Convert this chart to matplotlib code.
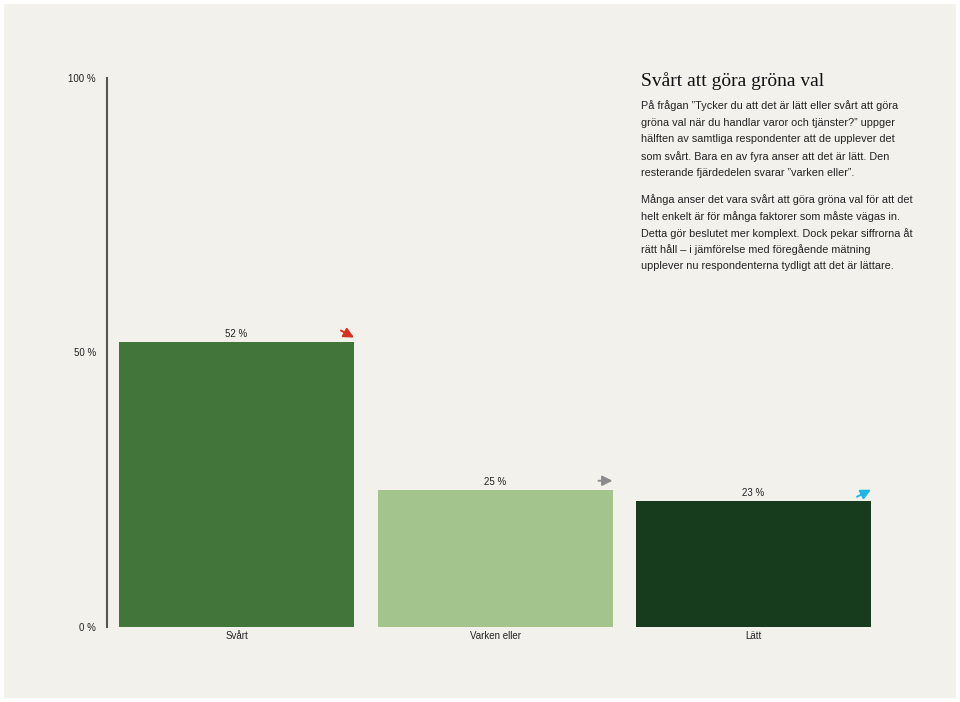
import matplotlib
matplotlib.use("Agg")
import matplotlib.pyplot as plt
from matplotlib.patches import Rectangle
from matplotlib.transforms import offset_copy

categories = ["Svårt", "Varken eller", "Lätt"]
values = [52, 25, 23]
value_labels = ["52 %", "25 %", "23 %"]
trend = ["down", "flat", "up"]
ytick_vals = [0, 50, 100]
ytick_labels = ["0 %", "50 %", "100 %"]
bar_colors = ["#41753a", "#a3c48d", "#163b1d"]
arrow_colors = {"down": "#d4321e", "flat": "#8c8c8c", "up": "#1fb6e6"}

title = "Svårt att göra gröna val"
para1 = ["På frågan ”Tycker du att det är lätt eller svårt att göra",
         "gröna val när du handlar varor och tjänster?” uppger",
         "hälften av samtliga respondenter att de upplever det",
         "som svårt. Bara en av fyra anser att det är lätt. Den",
         "resterande fjärdedelen svarar ”varken eller”."]
para2 = ["Många anser det vara svårt att göra gröna val för att det",
         "helt enkelt är för många faktorer som måste vägas in.",
         "Detta gör beslutet mer komplext. Dock pekar siffrorna åt",
         "rätt håll – i jämförelse med föregående mätning",
         "upplever nu respondenterna tydligt att det är lättare."]

W, H = 960, 702
fig = plt.figure(figsize=(W / 100, H / 100), dpi=100, facecolor="white")
bg = "#f2f1eb"
fig.patches.append(Rectangle((4 / W, 4 / H), 952 / W, 694 / H, transform=fig.transFigure,
                             facecolor=bg, edgecolor="none", zorder=-10))

ax_left, ax_right = 107, 900
ax_bottom, ax_top = 627, 78
ax = fig.add_axes([ax_left / W, (H - ax_bottom) / H, (ax_right - ax_left) / W, (ax_bottom - ax_top) / H])
ax.set_facecolor("none")
spacing = 258.5
x0 = -(236.5 - ax_left) / spacing
x1 = (ax_right - 236.5) / spacing
ax.set_xlim(x0, x1)
ax.set_ylim(0, 100)

xs = list(range(len(categories)))
width = 235 / spacing
ax.bar(xs, values, width=width, color=bar_colors, edgecolor="none", zorder=2)

for s in ["top", "right", "bottom"]:
    ax.spines[s].set_visible(False)
ax.spines["left"].set_color("#555555")
ax.spines["left"].set_linewidth(1.5)
ax.set_yticks(ytick_vals)
ax.set_yticklabels(ytick_labels, fontsize=7, family="Liberation Sans", color="#222222")
ax.tick_params(axis="y", length=0, pad=8)
ax.set_xticks(xs)
ax.set_xticklabels(categories, fontsize=7, family="Liberation Sans", color="#222222")
ax.tick_params(axis="x", length=0, pad=3)

# arrow geometry in pixels relative to bar top-right corner (dx, dy up positive)
arrow_geom = {
    "down": ((-13, 11), (0, 4)),
    "flat": ((-14, 9), (0, 9)),
    "up": ((-14, 4), (0, 11)),
}

for x, v, lab, t in zip(xs, values, value_labels, trend):
    ax.text(x, v + 0.5, lab, ha="center", va="bottom", fontsize=7,
            family="Liberation Sans", color="#222222")
    xr = x + width / 2
    (sx, sy), (ex, ey) = arrow_geom[t]
    tr_end = offset_copy(ax.transData, fig=fig, x=ex, y=ey, units="dots")
    tr_start = offset_copy(ax.transData, fig=fig, x=sx, y=sy, units="dots")
    ax.annotate("", xy=(xr, v), xycoords=tr_end, xytext=(xr, v), textcoords=tr_start,
                arrowprops=dict(arrowstyle="-|>,head_length=0.6,head_width=0.3",
                                color=arrow_colors[t], lw=1.4, shrinkA=0, shrinkB=0,
                                mutation_scale=10),
                annotation_clip=False)

fig.text(641 / W, 1 - 81 / H, title, fontsize=14, family="Liberation Serif",
         color="#111111", va="center", ha="left")
for i, line in enumerate(para1):
    fig.text(641 / W, 1 - (105 + 16.7 * i) / H, line, fontsize=7.8, family="Liberation Sans",
             color="#222222", va="center_baseline", ha="left")
for i, line in enumerate(para2):
    fig.text(641 / W, 1 - (199 + 16.6 * i) / H, line, fontsize=7.8, family="Liberation Sans",
             color="#222222", va="center_baseline", ha="left")

fig.savefig("out.png", dpi=100, facecolor=fig.get_facecolor())
